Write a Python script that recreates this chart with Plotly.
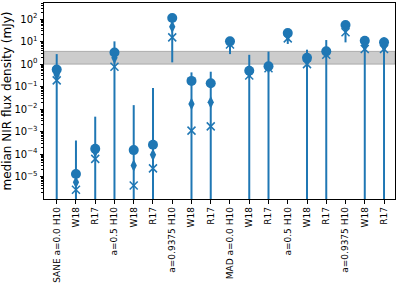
import plotly.graph_objects as go
import numpy as np

labels = ["SANE a=0.0 H10", "W18", "R17", "a=0.5 H10", "W18", "R17",
          "a=0.9375 H10", "W18", "R17", "MAD a=0.0 H10", "W18", "R17",
          "a=0.5 H10", "W18", "R17", "a=0.9375 H10", "W18", "R17"]

circle_vals = [0.57, 1.3e-5, 1.7e-4, 3.3, 1.5e-4, 2.6e-4,
               113, 0.18, 0.14, 10.3, 0.51, 0.8,
               24, 1.9, 3.7, 55, 11, 9.3]
diamond_vals = [0.34, 5.6e-6, 1.3e-4, 1.9, 3.1e-5, 9.2e-5,
                46, 0.017, 0.02, 9.0, 0.42, 0.72,
                19, 1.5, 3.2, 43, 6.6, 6.2]
cross_vals = [0.19, 2.6e-6, 6.1e-5, 0.77, 4e-6, 2.3e-5,
              15.5, 1.1e-3, 1.7e-3, 7.5, 0.31, 0.65,
              14, 1.0, 2.6, 26, 4.7, 4.7]
err_hi = [2.8, 4e-4, 4.6e-3, 10.3, 0.015, 0.087,
          160, 0.43, 0.46, 15, 2.6, 3.6,
          33, 4.4, 11.8, 80, 17, 15.5]
err_lo = [1e-9, 1e-9, 1e-9, 1e-9, 1e-9, 1e-9,
          1.2, 1e-9, 1e-9, 2.8, 1e-9, 1e-9,
          7.9, 1e-9, 1e-9, 9.3, 1e-9, 1e-9]
band = [1.0, 3.7]

x = list(range(len(labels)))
blue = "#1f77b4"

fig = go.Figure()
fig.add_shape(type="rect", xref="paper", yref="y", x0=0, x1=1,
              y0=band[0], y1=band[1], fillcolor="rgba(128,128,128,0.4)",
              line=dict(color="rgba(128,128,128,0.5)", width=1), layer="below")

# error bars as line segments
ex, ey = [], []
for i in x:
    ex += [i, i, None]
    ey += [err_lo[i], err_hi[i], None]
fig.add_trace(go.Scatter(x=ex, y=ey, mode="lines", line=dict(color=blue, width=2),
                         showlegend=False, hoverinfo="skip"))
fig.add_trace(go.Scatter(x=x, y=circle_vals, mode="markers",
                         marker=dict(symbol="circle", size=10, color=blue), showlegend=False))
fig.add_trace(go.Scatter(x=x, y=diamond_vals, mode="markers",
                         marker=dict(symbol="diamond-tall", size=9, color=blue), showlegend=False))
fig.add_trace(go.Scatter(x=x, y=cross_vals, mode="markers",
                         marker=dict(symbol="x-thin", size=8, color=blue,
                                     line=dict(color=blue, width=1.5)), showlegend=False))

major = [1e-5, 1e-4, 1e-3, 1e-2, 1e-1, 1, 10, 100]
major_text = ["10<sup>\u22125</sup>", "10<sup>\u22124</sup>", "10<sup>\u22123</sup>",
              "10<sup>\u22122</sup>", "10<sup>\u22121</sup>", "10<sup>0</sup>",
              "10<sup>1</sup>", "10<sup>2</sup>"]
minor = [m * 10.0 ** e for e in range(-6, 3) for m in range(2, 10)]

fig.update_layout(
    width=399, height=284,
    margin=dict(l=44, r=4, t=3, b=85),
    plot_bgcolor="white", paper_bgcolor="white",
    font=dict(family="DejaVu Sans", size=10, color="black"),
    xaxis=dict(range=[-0.66, 17.57], tickvals=x, ticktext=labels, tickangle=-90,
               automargin=False,
               showgrid=False, zeroline=False, showline=True, linecolor="black",
               linewidth=1, mirror=True, ticks="outside", ticklen=3.5,
               tickcolor="black", tickfont=dict(size=9)),
    yaxis=dict(type="log", range=[-6, 2.72], tickvals=major, ticktext=major_text,
               automargin=False,
               showgrid=False, zeroline=False, showline=True, linecolor="black",
               linewidth=1, mirror=True, ticks="outside", ticklen=3.5,
               tickcolor="black", tickfont=dict(size=10),
               minor=dict(tickvals=minor, ticks="outside", ticklen=2, tickcolor="black"),
               title=dict(text="median NIR flux density (mJy)", font=dict(size=12), standoff=2)),
)

fig.write_html("out.html", config={"displayModeBar": False},
               post_script="document.body.style.margin='0';")
